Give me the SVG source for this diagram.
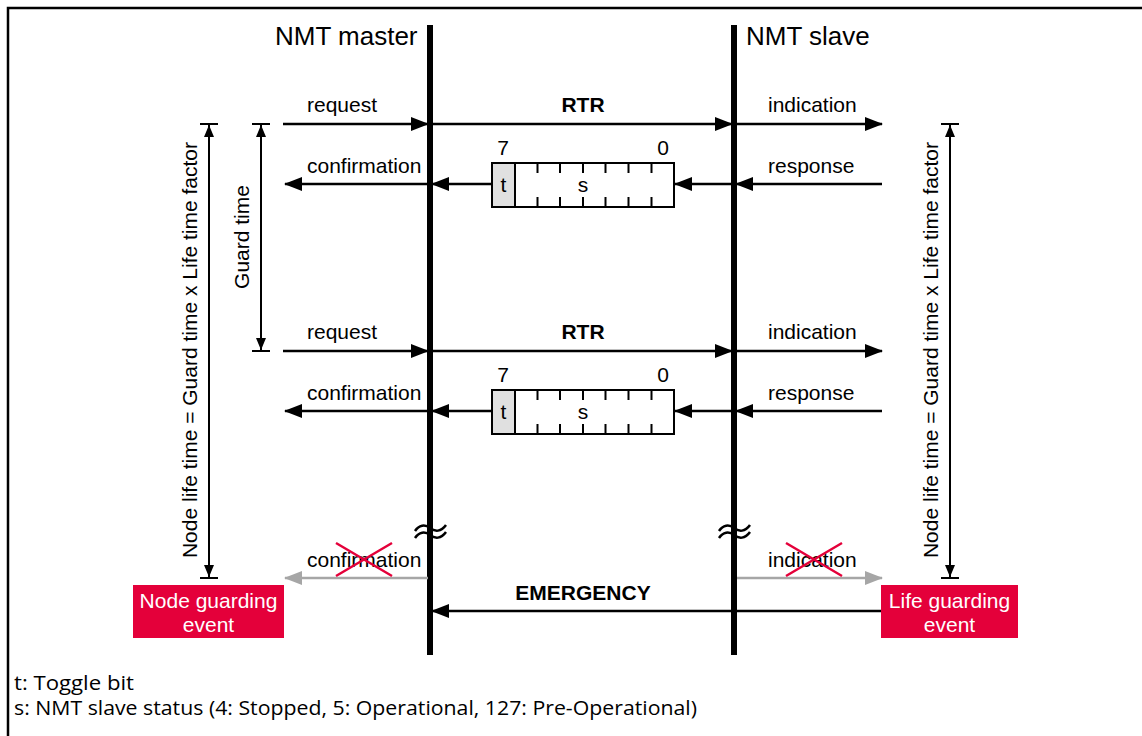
<svg xmlns="http://www.w3.org/2000/svg" width="1142" height="736" viewBox="0 0 1142 736">
<defs>
<marker id="ah" markerWidth="18" markerHeight="14" refX="17" refY="7" orient="auto" markerUnits="userSpaceOnUse"><path d="M0,0 L18,7 L0,14 Z" fill="#000"/></marker>
<marker id="ahg" markerWidth="18" markerHeight="14" refX="17" refY="7" orient="auto" markerUnits="userSpaceOnUse"><path d="M0,0 L18,7 L0,14 Z" fill="#a6a6a6"/></marker>
<marker id="dim" markerWidth="12" markerHeight="10" refX="12" refY="5" orient="auto-start-reverse" markerUnits="userSpaceOnUse"><path d="M0,0 L12,5 L0,10 Z" fill="#000"/></marker>
</defs>
<style>
.t{font-family:"Liberation Sans",Arial,sans-serif;font-size:21px;fill:#000}
.b{font-weight:bold}
.h{font-size:26px}
.w{fill:#fff;font-size:21px}
.f{font-family:"Open Sans","Noto Sans",sans-serif;font-size:20px;fill:#000}
.ln{stroke:#000;stroke-width:2.5;fill:none}
.gl{stroke:#a6a6a6;stroke-width:2.5;fill:none}
.life{stroke:#000;stroke-width:6}
.box{fill:#fff;stroke:#000;stroke-width:2}
.tick{stroke:#000;stroke-width:2}
.red{fill:#e4003a}
.x{stroke:#e4003a;stroke-width:2.5}
.wave{stroke:#000;stroke-width:2.5;fill:none}
</style>
<rect width="1142" height="736" fill="#fff"/>
<path d="M8,736 V8 H1142" stroke="#000" stroke-width="2.5" fill="none"/>

<g id="master">
<line class="life" x1="430" y1="25" x2="430" y2="655"/>
<text class="t h" x="275" y="45">NMT master</text>
<path class="wave" d="M415,531 c4,-6 10,-7 15,-3 s11,4 16,-3 M415,538 c4,-6 10,-7 15,-3 s11,4 16,-3"/>
</g>
<g id="slave">
<line class="life" x1="734" y1="25" x2="734" y2="655"/>
<text class="t h" x="746" y="45">NMT slave</text>
<path class="wave" d="M719,531 c4,-6 10,-7 15,-3 s11,4 16,-3 M719,538 c4,-6 10,-7 15,-3 s11,4 16,-3"/>
</g>

<g id="frame1">
<rect class="box" x="492" y="163" width="182" height="44"/>
<rect x="492" y="163" width="23" height="44" fill="#e0e0e0" stroke="#000" stroke-width="2"/>
<path class="tick" d="M537.5,163v10M560,163v10M583,163v10M605.5,163v10M628.5,163v10M651.5,163v10M537.5,197v10M560,197v10M583,197v10M605.5,197v10M628.5,197v10M651.5,197v10"/>
<text class="t" x="503.5" y="192" text-anchor="middle">t</text>
<text class="t" x="583" y="192" text-anchor="middle">s</text>
<text class="t" x="503" y="155" text-anchor="middle">7</text>
<text class="t" x="663" y="155" text-anchor="middle">0</text>
</g>
<g id="frame2">
<rect class="box" x="492" y="390" width="182" height="44"/>
<rect x="492" y="390" width="23" height="44" fill="#e0e0e0" stroke="#000" stroke-width="2"/>
<path class="tick" d="M537.5,390v10M560,390v10M583,390v10M605.5,390v10M628.5,390v10M651.5,390v10M537.5,424v10M560,424v10M583,424v10M605.5,424v10M628.5,424v10M651.5,424v10"/>
<text class="t" x="503.5" y="419" text-anchor="middle">t</text>
<text class="t" x="583" y="419" text-anchor="middle">s</text>
<text class="t" x="503" y="382" text-anchor="middle">7</text>
<text class="t" x="663" y="382" text-anchor="middle">0</text>
</g>

<g id="nodeGuardingEvent">
<rect class="red" x="133" y="585" width="151" height="53"/>
<text class="t w" x="208.5" y="608" text-anchor="middle">Node guarding</text>
<text class="t w" x="208.5" y="632" text-anchor="middle">event</text>
</g>
<g id="lifeGuardingEvent">
<rect class="red" x="881" y="585" width="137" height="53"/>
<text class="t w" x="949.5" y="608" text-anchor="middle">Life guarding</text>
<text class="t w" x="949.5" y="632" text-anchor="middle">event</text>
</g>

<g id="connectors">
<line class="ln" x1="283" y1="124" x2="428" y2="124" marker-end="url(#ah)"/>
<line class="ln" x1="433" y1="124" x2="732" y2="124" marker-end="url(#ah)"/>
<line class="ln" x1="737" y1="124" x2="882" y2="124" marker-end="url(#ah)"/>
<line class="ln" x1="427" y1="184" x2="285" y2="184" marker-end="url(#ah)"/>
<line class="ln" x1="491" y1="184" x2="432" y2="184" marker-end="url(#ah)"/>
<line class="ln" x1="882" y1="184" x2="736" y2="184" marker-end="url(#ah)"/>
<line class="ln" x1="731" y1="184" x2="675" y2="184" marker-end="url(#ah)"/>

<line class="ln" x1="283" y1="351" x2="428" y2="351" marker-end="url(#ah)"/>
<line class="ln" x1="433" y1="351" x2="732" y2="351" marker-end="url(#ah)"/>
<line class="ln" x1="737" y1="351" x2="882" y2="351" marker-end="url(#ah)"/>
<line class="ln" x1="427" y1="411" x2="285" y2="411" marker-end="url(#ah)"/>
<line class="ln" x1="491" y1="411" x2="432" y2="411" marker-end="url(#ah)"/>
<line class="ln" x1="882" y1="411" x2="736" y2="411" marker-end="url(#ah)"/>
<line class="ln" x1="731" y1="411" x2="675" y2="411" marker-end="url(#ah)"/>

<line class="gl" x1="428" y1="578" x2="285" y2="578" marker-end="url(#ahg)"/>
<line class="gl" x1="737" y1="578" x2="882" y2="578" marker-end="url(#ahg)"/>
<line class="ln" x1="881" y1="611" x2="432" y2="611" marker-end="url(#ah)"/>

<line x1="209" y1="125" x2="209" y2="577" stroke="#000" stroke-width="2" marker-start="url(#dim)" marker-end="url(#dim)"/>
<path class="tick" d="M200,124H218M200,578H218"/>
<line x1="261" y1="125" x2="261" y2="350" stroke="#000" stroke-width="2" marker-start="url(#dim)" marker-end="url(#dim)"/>
<path class="tick" d="M252,124H270M252,351H270"/>
<line x1="950" y1="125" x2="950" y2="577" stroke="#000" stroke-width="2" marker-start="url(#dim)" marker-end="url(#dim)"/>
<path class="tick" d="M941,124H959M941,578H959"/>
</g>

<g id="labels">
<text class="t" x="307" y="112">request</text>
<text class="t b" x="583" y="112" text-anchor="middle">RTR</text>
<text class="t" x="768" y="112">indication</text>
<text class="t" x="307" y="173">confirmation</text>
<text class="t" x="768" y="173">response</text>
<text class="t" x="307" y="339">request</text>
<text class="t b" x="583" y="339" text-anchor="middle">RTR</text>
<text class="t" x="768" y="339">indication</text>
<text class="t" x="307" y="400">confirmation</text>
<text class="t" x="768" y="400">response</text>
<text class="t" x="307" y="567">confirmation</text>
<text class="t" x="768" y="567">indication</text>
<text class="t b" x="583" y="600" text-anchor="middle">EMERGENCY</text>
<path class="x" d="M336,543L392,576M392,543L336,576M786,543L842,576M842,543L786,576"/>
<text class="t" transform="translate(197,350) rotate(-90)" text-anchor="middle">Node life time = Guard time x Life time factor</text>
<text class="t" transform="translate(249,237) rotate(-90)" text-anchor="middle">Guard time</text>
<text class="t" transform="translate(938,350) rotate(-90)" text-anchor="middle">Node life time = Guard time x Life time factor</text>
</g>

<g id="legend">
<text class="f" x="14" y="690" textLength="120" lengthAdjust="spacingAndGlyphs">t: Toggle bit</text>
<text class="f" x="14" y="715" textLength="683" lengthAdjust="spacingAndGlyphs">s: NMT slave status (4: Stopped, 5: Operational, 127: Pre-Operational)</text>
</g>
</svg>
